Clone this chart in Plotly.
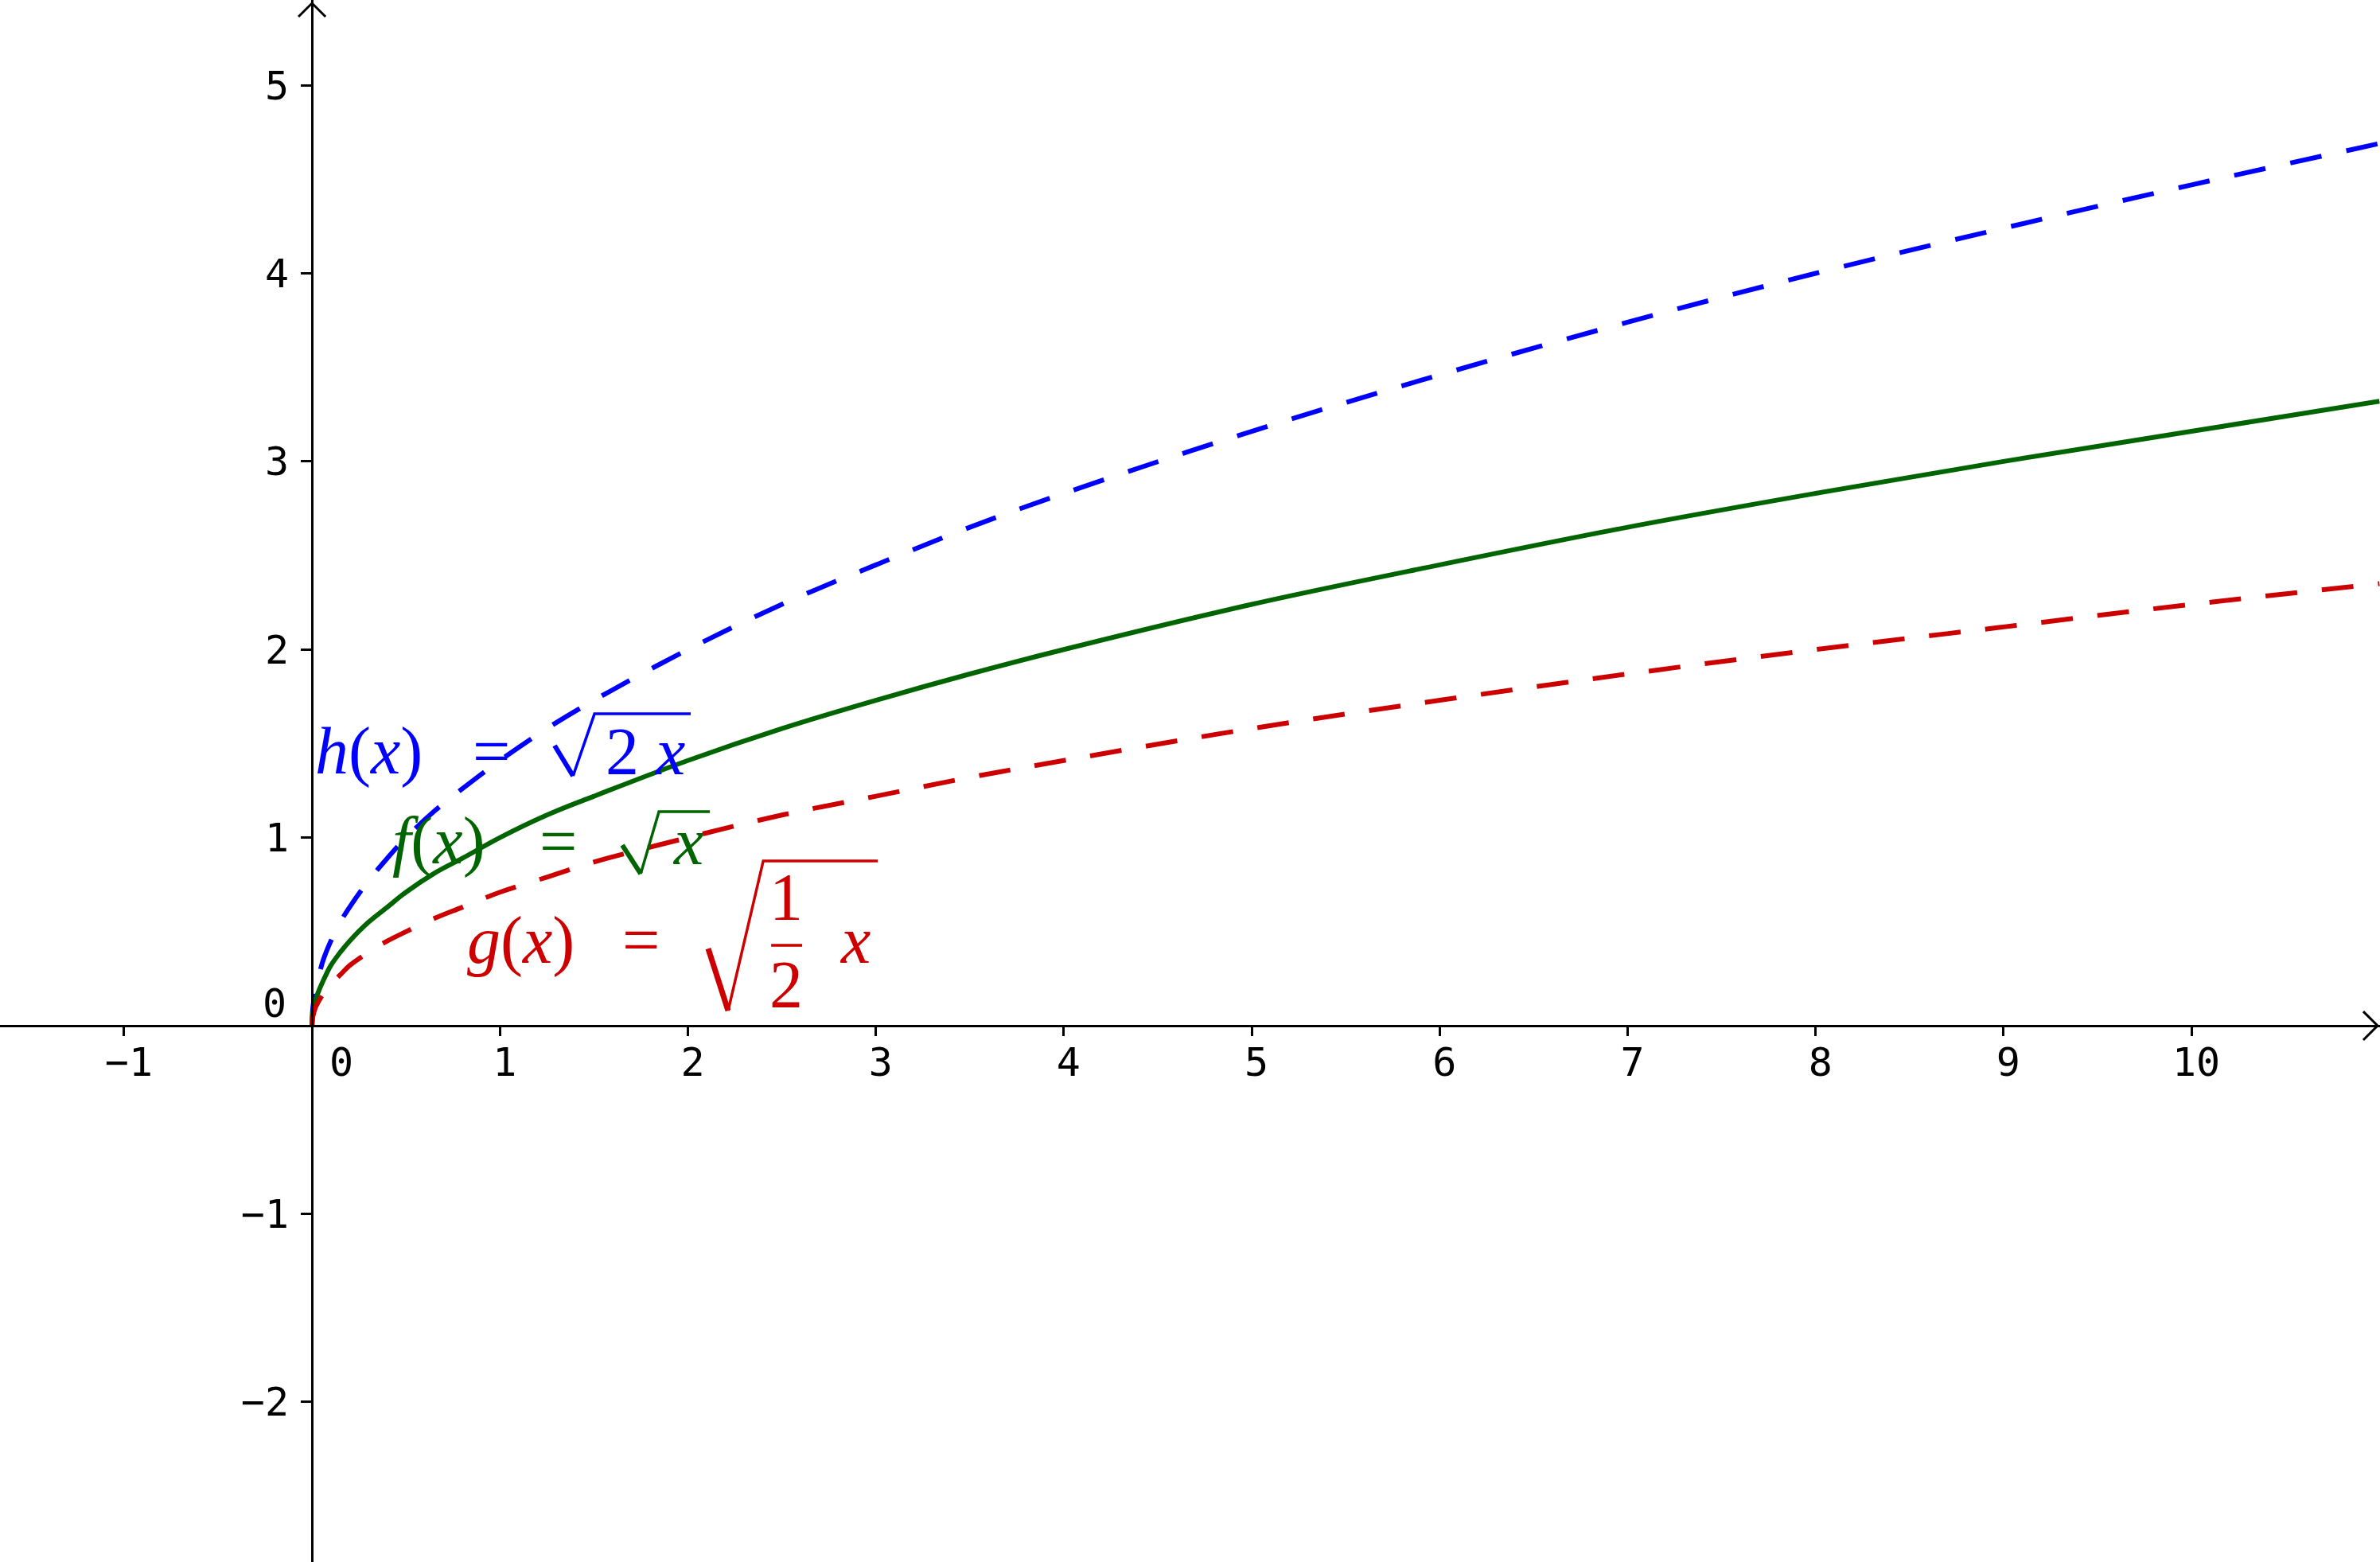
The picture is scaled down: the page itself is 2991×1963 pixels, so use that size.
import plotly.graph_objects as go

# values
x_vals = [0, 0.003, 0.01, 0.02, 0.03, 0.06, 0.1, 0.15, 0.2, 0.3, 0.4, 0.5, 0.65, 0.8, 1, 1.25, 1.5,
          2, 2.5, 3, 3.5, 4, 5, 6, 7, 8, 9, 10, 11]
f_vals = [0, 0.055, 0.1, 0.14, 0.17, 0.24, 0.32, 0.39, 0.45, 0.55, 0.63, 0.71, 0.81, 0.89, 1.0, 1.12, 1.22,
          1.41, 1.58, 1.73, 1.87, 2.0, 2.24, 2.45, 2.65, 2.83, 3.0, 3.16, 3.32]
g_vals = [0, 0.039, 0.07, 0.1, 0.12, 0.17, 0.22, 0.27, 0.32, 0.39, 0.45, 0.5, 0.57, 0.63, 0.71, 0.79, 0.87,
          1.0, 1.12, 1.22, 1.32, 1.41, 1.58, 1.73, 1.87, 2.0, 2.12, 2.24, 2.35]
h_vals = [0, 0.077, 0.14, 0.2, 0.24, 0.35, 0.45, 0.55, 0.63, 0.77, 0.89, 1.0, 1.14, 1.26, 1.41, 1.58, 1.73,
          2.0, 2.24, 2.45, 2.65, 2.83, 3.16, 3.46, 3.74, 4.0, 4.24, 4.47, 4.69]

x_ticks = [-1, 1, 2, 3, 4, 5, 6, 7, 8, 9, 10]
y_ticks = [-2, -1, 1, 2, 3, 4, 5]

X_RANGE = [-1.660, 11.003]
Y_RANGE = [-2.851, 5.453]

BLUE = "#0000ff"
GREEN = "#006400"
RED = "#cc0000"
MATH_FONT = "Liberation Serif"
MATH_SIZE = 84
TICK_FONT = dict(family="DejaVu Sans Mono", size=50, color="black")

fig = go.Figure()
fig.add_trace(go.Scatter(x=x_vals, y=h_vals, mode="lines", line_shape="spline",
                         line=dict(color=BLUE, width=6, dash="40px,32px")))
fig.add_trace(go.Scatter(x=x_vals, y=f_vals, mode="lines", line_shape="spline",
                         line=dict(color=GREEN, width=6)))
fig.add_trace(go.Scatter(x=x_vals, y=g_vals, mode="lines", line_shape="spline",
                         line=dict(color=RED, width=6, dash="40px,31px")))


def label(text, x, y, color, size=MATH_SIZE):
    fig.add_annotation(x=x, y=y, text=text, showarrow=False, xanchor="center",
                       yanchor="middle", font=dict(family=MATH_FONT, size=size, color=color))


def radical(pts, color, thick=6, thin=3.5):
    (x0, y0), (x1, y1), (x2, y2), (x3, y3) = pts
    fig.add_shape(type="line", x0=x0, y0=y0, x1=x1, y1=y1,
                  line=dict(color=color, width=thick))
    fig.add_shape(type="path", path=f"M{x1},{y1} L{x2},{y2} L{x3},{y3}",
                  line=dict(color=color, width=thin))


# h(x) = sqrt(2 x)
label("<i>h</i>(<i>x</i>)", 0.301, 1.459, BLUE)
label("=", 0.953, 1.459, BLUE)
label("2 <i>x</i>", 1.774, 1.459, BLUE)
radical([(1.291, 1.489), (1.389, 1.328), (1.503, 1.658), (2.015, 1.658)], BLUE)

# f(x) = sqrt(x)
label("<i>f</i>(<i>x</i>)", 0.673, 0.981, GREEN)
label("=", 1.312, 0.981, GREEN)
label("<i>x</i>", 1.998, 0.981, GREEN)
radical([(1.651, 0.960), (1.749, 0.808), (1.846, 1.138), (2.117, 1.138)], GREEN)

# g(x) = sqrt(1/2 x)
label("<i>g</i>(<i>x</i>)", 1.113, 0.453, RED)
label("=", 1.749, 0.453, RED)
label("1", 2.523, 0.685, RED)
label("2", 2.523, 0.220, RED)
label("<i>x</i>", 2.887, 0.453, RED)
fig.add_shape(type="line", x0=2.443, y0=0.427, x1=2.608, y1=0.427,
              line=dict(color=RED, width=3.5))
radical([(2.108, 0.410), (2.214, 0.080), (2.401, 0.876), (3.010, 0.876)], RED,
        thick=7, thin=3.5)

# zero labels sit off the axes
fig.add_annotation(x=0.157, y=-0.195, text="0", showarrow=False, font=TICK_FONT)
fig.add_annotation(x=-0.199, y=0.118, text="0", showarrow=False, font=TICK_FONT)

# open arrow heads at the axis ends
fig.add_shape(type="path", path="M10.914,0.076 L10.99,0 L10.914,-0.076",
              line=dict(color="black", width=3))
fig.add_shape(type="path", path="M-0.072,5.364 L0,5.436 L0.072,5.364",
              line=dict(color="black", width=3))

axis_common = dict(showgrid=False, zeroline=False, showline=True, linecolor="black",
                   linewidth=3, ticks="outside", tickwidth=3, tickcolor="black",
                   tickfont=TICK_FONT, anchor="free", automargin=False)

fig.update_layout(
    width=2991, height=1963,
    margin=dict(l=0, r=0, t=0, b=0),
    plot_bgcolor="white", paper_bgcolor="white",
    showlegend=False,
    xaxis=dict(range=X_RANGE, tickvals=x_ticks, ticklen=11, ticklabelshift=6,
               ticklabelstandoff=-10,
               position=(0 - Y_RANGE[0]) / (Y_RANGE[1] - Y_RANGE[0]), **axis_common),
    yaxis=dict(range=Y_RANGE, tickvals=y_ticks, ticklen=13, ticklabelstandoff=5,
               position=(0 - X_RANGE[0]) / (X_RANGE[1] - X_RANGE[0]), **axis_common),
)

fig.write_html("out.html", config={"displayModeBar": False},
               post_script="document.body.style.margin='0';document.body.style.overflow='hidden';")
